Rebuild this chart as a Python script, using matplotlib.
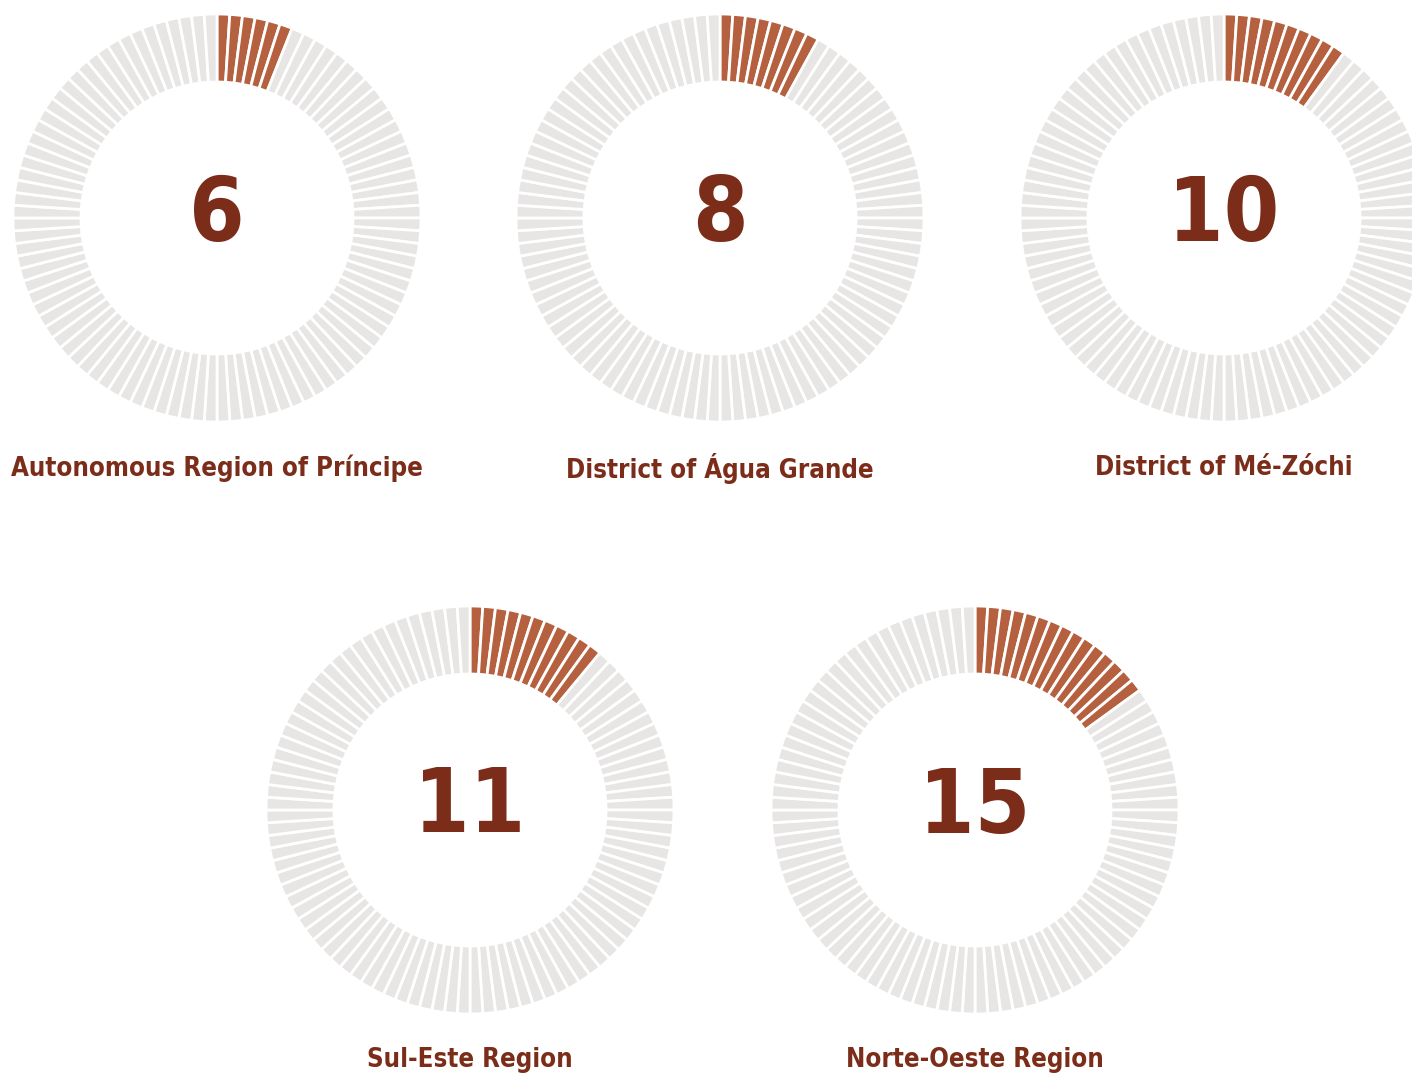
import matplotlib
matplotlib.use("Agg")
import matplotlib.pyplot as plt
from matplotlib import font_manager

# data
regions = ["Autonomous Region of Príncipe", "District of Água Grande",
           "District of Mé-Zóchi", "Sul-Este Region", "Norte-Oeste Region"]
values = [6, 8, 10, 11, 15]
total = 100

# layout (pixel coords of each donut centre)
centres = [(217, 218), (720, 218), (1224, 218), (470, 810), (975, 810)]
r_out, r_in = 204, 136

hi_col = "#B5603F"
bg_col = "#E8E6E4"
txt_col = "#7B2D1A"

# condensed bold face if there is one
cond = [f for f in font_manager.fontManager.ttflist
        if ("Condensed" in f.name or "Narrow" in f.name
            or str(f.stretch) in ("condensed", "semi-condensed", "extra-condensed"))]
bold = [f for f in cond if f.weight in ("bold", 700) or "Bold" in f.fname]
if cond:
    fprop = font_manager.FontProperties(fname=(bold or cond)[0].fname)
else:
    fprop = font_manager.FontProperties(family="DejaVu Sans", weight="bold")

fig = plt.figure(figsize=(14.12, 10.77), dpi=100)
ax = fig.add_axes([0, 0, 1, 1])

for name, v, (cx, cy) in zip(regions, values, centres):
    cols = [hi_col if i < v else bg_col for i in range(total)]
    ax.pie([1] * total, colors=cols, startangle=90, counterclock=False,
           center=(cx, -cy), radius=r_out,
           wedgeprops=dict(width=r_out - r_in, edgecolor="white", linewidth=2.0))
    p = fprop.copy()
    p.set_size(64)
    ax.text(cx, -(cy - 2), str(v), ha="center", va="center", fontproperties=p,
            color=txt_col)
    p2 = fprop.copy()
    p2.set_size(18.5)
    ax.text(cx, -(cy + 250), name, ha="center", va="center", fontproperties=p2,
            color=txt_col)

ax.set_xlim(0, 1412)
ax.set_ylim(-1077, 0)
ax.set_aspect("equal")
ax.axis("off")

fig.savefig("out.png", dpi=100)
